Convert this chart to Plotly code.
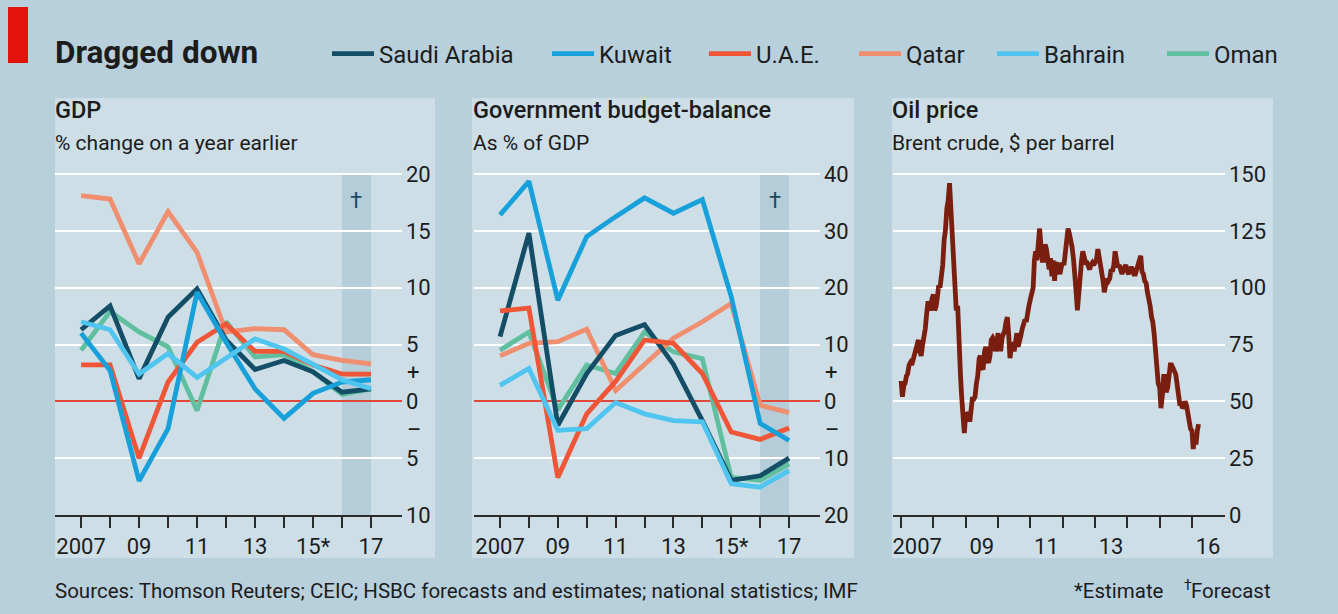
import plotly.graph_objects as go
import pandas as pd

W, H = 1338, 614

# ---------------- data ----------------
years = list(range(2007, 2018))
label_years = [2007, 2009, 2011, 2013, 2015, 2017]
year_labels = ["2007", "09", "11", "13", "15*", "17"]
forecast_start, forecast_end = 2016, 2017

countries = ["Saudi Arabia", "Kuwait", "U.A.E.", "Qatar", "Bahrain", "Oman"]

# GDP, % change on a year earlier
gdp_saudi = [6.3, 8.4, 2.0, 7.4, 9.9, 5.4, 2.8, 3.6, 2.6, 0.8, 1.1]
gdp_kuwait = [6.0, 2.7, -7.0, -2.4, 9.6, 5.2, 1.1, -1.5, 0.7, 1.7, 1.9]
gdp_uae = [3.2, 3.2, -5.0, 1.7, 5.2, 6.8, 4.4, 4.4, 3.2, 2.4, 2.4]
gdp_qatar = [18.1, 17.8, 12.1, 16.7, 13.1, 6.1, 6.4, 6.3, 4.1, 3.6, 3.3]
gdp_bahrain = [7.0, 6.3, 2.4, 4.2, 2.1, 3.8, 5.5, 4.6, 3.2, 1.9, 1.1]
gdp_oman = [4.5, 7.9, 6.1, 4.8, -0.8, 7.0, 3.9, 4.1, 2.6, 0.6, 1.1]

# Government budget balance, % of GDP
bud_saudi = [11.4, 29.6, -4.2, 4.9, 11.6, 13.5, 6.5, -3.4, -13.9, -13.1, -10.0]
bud_kuwait = [32.8, 38.7, 17.8, 29.0, 32.5, 35.8, 33.1, 35.5, 18.4, -3.9, -6.9]
bud_uae = [15.9, 16.4, -13.4, -2.2, 3.5, 10.8, 10.2, 4.9, -5.4, -6.7, -4.7]
bud_qatar = [8.0, 10.2, 10.5, 12.7, 1.9, 6.4, 11.1, 14.0, 17.2, -0.7, -2.0]
bud_bahrain = [2.8, 5.8, -5.1, -4.8, -0.2, -2.2, -3.4, -3.6, -14.5, -15.1, -12.2]
bud_oman = [9.0, 12.2, -1.5, 6.4, 4.9, 12.2, 8.7, 7.5, -13.4, -13.9, -11.0]

# Brent crude, $ per barrel (semi-monthly readings from Jan 2007)
brent = [
    59, 52, 57, 58, 61, 62, 66, 67, 66, 68, 70, 71, 74, 77, 72, 70, 75, 78, 82, 88, 94, 92, 90, 95,
    97, 90, 92, 96, 101, 100, 104, 110, 121, 125, 135, 138, 146, 136, 124, 113, 105, 90, 92, 73, 62, 52, 46, 36,
    45, 44, 45, 41, 46, 51, 51, 52, 58, 61, 69, 70, 65, 64, 72, 74, 68, 67, 70, 77, 78, 77, 72, 76,
    80, 73, 73, 78, 79, 81, 85, 87, 79, 69, 74, 76, 72, 76, 80, 74, 76, 79, 82, 84, 86, 85, 90, 92,
    95, 98, 100, 112, 116, 112, 122, 126, 118, 112, 112, 119, 117, 110, 108, 113, 105, 112, 103, 110, 111, 108, 106, 109,
    111, 110, 116, 120, 126, 124, 121, 118, 113, 108, 98, 90, 100, 106, 112, 116, 114, 111, 111, 109, 108, 110, 111, 110,
    112, 112, 117, 114, 110, 108, 103, 98, 103, 104, 103, 104, 108, 107, 110, 116, 112, 109, 110, 108, 106, 108, 110, 110,
    107, 106, 108, 109, 108, 106, 106, 109, 110, 112, 114, 107, 106, 103, 102, 98, 95, 92, 87, 85, 79, 72, 64, 58,
    56, 47, 53, 61, 61, 54, 56, 63, 66, 66, 64, 63, 62, 58, 52, 49, 49, 47, 48, 50, 48, 44, 43, 38,
    37, 29, 35, 31, 37, 40,
]
brent_dates = pd.date_range("2007-01-01", periods=len(brent), freq="SMS")
oil_label_years = [2007, 2009, 2011, 2013, 2016]
oil_labels = ["2007", "09", "11", "13", "16"]
oil_tick_years = list(range(2007, 2017))

gdp = [gdp_saudi, gdp_kuwait, gdp_uae, gdp_qatar, gdp_bahrain, gdp_oman]
bud = [bud_saudi, bud_kuwait, bud_uae, bud_qatar, bud_bahrain, bud_oman]

# ---------------- style ----------------
colors = ["#134e66", "#17a0d9", "#ef5637", "#ef8f70", "#4fc5f0", "#5fbf9f"]
draw_order = [5, 3, 0, 2, 1, 4]
OUTER = "#b8cfdc"
PANEL = "#cddee7"
BAND = "#b5ccd9"
DARK = "#2b2b2b"
TXT = "#1c1c1c"
FONT = "Roboto"
OIL = "#7a1f10"
LW = 4.8

def px(x):
    return x / W

def py(y):
    return 1 - y / H

fig = go.Figure()

legend_x = [335, 555, 712, 862, 1000, 1170]

for i in draw_order:
    fig.add_trace(go.Scatter(
        x=years, y=gdp[i], mode="lines", name=countries[i],
        line=dict(color=colors[i], width=LW), xaxis="x", yaxis="y",
        legend="legend" if i == 0 else f"legend{i+1}", showlegend=True,
        hoverinfo="skip"))
    fig.add_trace(go.Scatter(
        x=years, y=bud[i], mode="lines", name=countries[i],
        line=dict(color=colors[i], width=LW), xaxis="x2", yaxis="y2",
        showlegend=False, hoverinfo="skip"))

fig.add_trace(go.Scatter(
    x=brent_dates, y=brent, mode="lines", name="Brent",
    line=dict(color=OIL, width=4.8), xaxis="x3", yaxis="y3",
    showlegend=False, hoverinfo="skip"))

ydom = [py(515), py(170.6)]
tickfont = dict(family=FONT, size=22, color=TXT)

year_minor = dict(tickmode="array", tickvals=years, ticks="outside", ticklen=11,
                  tickwidth=1.5, tickcolor=DARK, showgrid=False)
common_x = dict(ticks="outside", ticklen=11, tickwidth=1.5, tickcolor=DARK,
                showline=True, linecolor=DARK, linewidth=1.5, showgrid=False,
                zeroline=False, tickfont=tickfont, fixedrange=True, automargin=False)
common_y = dict(side="right", showgrid=True, gridcolor="white", gridwidth=2,
                ticks="", tickfont=tickfont, showline=False, fixedrange=True,
                ticklabelstandoff=3, automargin=False)

layout = dict(
    width=W, height=H, autosize=False,
    margin=dict(l=0, r=0, t=0, b=0, pad=0, autoexpand=False),
    paper_bgcolor=OUTER, plot_bgcolor="rgba(0,0,0,0)",
    font=dict(family=FONT, color=TXT),
    xaxis=dict(domain=[px(55), px(402)], range=[2006.1, 2018.07], anchor="y",
               tickmode="array", tickvals=label_years, ticktext=year_labels,
               minor=year_minor, **common_x),
    yaxis=dict(domain=ydom, range=[-10, 20.3], anchor="x",
               tickmode="array", tickvals=[-10, -5, 0, 5, 10, 15, 20],
               ticktext=["10", "5", "0", "5", "10", "15", "20"],
               zeroline=True, zerolinecolor="#e0483a", zerolinewidth=1.5, **common_y),
    xaxis2=dict(domain=[px(474), px(820)], range=[2006.1, 2018.07], anchor="y2",
                tickmode="array", tickvals=label_years, ticktext=year_labels,
                minor=year_minor, **common_x),
    yaxis2=dict(domain=ydom, range=[-20, 40.6], anchor="x2",
                tickmode="array", tickvals=[-20, -10, 0, 10, 20, 30, 40],
                ticktext=["20", "10", "0", "10", "20", "30", "40"],
                zeroline=True, zerolinecolor="#e0483a", zerolinewidth=1.5, **common_y),
    xaxis3=dict(domain=[px(893), px(1225)], type="date",
                range=["2006-10-01", "2017-01-08"], anchor="y3",
                tickmode="array",
                tickvals=[f"{y}-07-01" for y in oil_label_years], ticktext=oil_labels,
                ticks="outside", ticklen=11, tickwidth=1.5, tickcolor="rgba(0,0,0,0)",
                minor=dict(tickmode="array", tickvals=[f"{y}-01-01" for y in oil_tick_years],
                           ticks="outside", ticklen=11, tickwidth=1.5, tickcolor=DARK,
                           showgrid=False),
                showline=True, linecolor=DARK, linewidth=1.5, showgrid=False,
                zeroline=False, tickfont=tickfont, fixedrange=True, automargin=False),
    yaxis3=dict(domain=ydom, range=[0, 151.5], anchor="x3",
                tickmode="array", tickvals=[0, 25, 50, 75, 100, 125, 150],
                zeroline=False, **common_y),
)

# legends, one per country, positioned along the top row
for i, name in enumerate(countries):
    key = "legend" if i == 0 else f"legend{i+1}"
    layout[key] = dict(x=px(legend_x[i] - 8), y=py(54), xanchor="left", yanchor="middle",
                       orientation="h", bgcolor="rgba(0,0,0,0)", borderwidth=0,
                       itemwidth=42,
                       font=dict(family=FONT, size=24, color=TXT),
                       itemclick=False, itemdoubleclick=False)

fig.update_layout(**layout)

# panel backgrounds and red tab
shapes = []
for x0, x1 in [(55, 435), (472, 854), (892, 1273)]:
    shapes.append(dict(type="rect", xref="paper", yref="paper", x0=px(x0), x1=px(x1),
                       y0=py(558), y1=py(98), fillcolor=PANEL, line=dict(width=0), layer="below"))
shapes.append(dict(type="rect", xref="paper", yref="paper", x0=px(8), x1=px(28),
                   y0=py(63), y1=py(7), fillcolor="#e3120b", line=dict(width=0), layer="below"))
# forecast bands
shapes.append(dict(type="rect", xref="x", yref="y", x0=forecast_start, x1=forecast_end,
                   y0=-10, y1=20, fillcolor=BAND, line=dict(width=0), layer="below"))
shapes.append(dict(type="rect", xref="x2", yref="y2", x0=forecast_start, x1=forecast_end,
                   y0=-20, y1=40, fillcolor=BAND, line=dict(width=0), layer="below"))
fig.update_layout(shapes=shapes)

ann = []
def text(x, y, s, size, weight=None, anchor="left", color=TXT):
    ann.append(dict(xref="paper", yref="paper", x=px(x), y=py(y), text=s, showarrow=False,
                    xanchor=anchor, yanchor="middle",
                    font=dict(family=FONT, size=size, color=color, weight=weight)))

text(53, 52, "Dragged down", 31.5, weight="bold")
text(53, 110, "GDP", 23.5, weight=500)
text(53, 143, "% change on a year earlier", 21)
text(471, 110, "Government budget-balance", 23.5, weight=500)
text(471, 143, "As % of GDP", 21)
text(890, 110, "Oil price", 23.5, weight=500)
text(890, 143, "Brent crude, $ per barrel", 21)
text(53, 591, "Sources: Thomson Reuters; CEIC; HSBC forecasts and estimates; national statistics; IMF", 20.5)
text(1166, 591, "*Estimate", 20.5, anchor="right")
text(1182, 585, "†", 14)
text(1273, 591, "Forecast", 20.5, anchor="right")

# "+" and "–" sign markers beside the zero line of the GDP and budget panels
for yr, plot_right, step in [("y", 402, 2.5), ("y2", 820, 5)]:
    for val, sign in [(step, "+"), (-step, "–")]:
        ann.append(dict(xref="paper", yref=yr, x=px(plot_right + 3), y=val, text=sign,
                        showarrow=False, xanchor="left", yanchor="middle",
                        font=dict(family=FONT, size=22, color=TXT)))

for xr, yr, yv in [("x", "y", 17.7), ("x2", "y2", 35.4)]:
    ann.append(dict(xref=xr, yref=yr, x=(forecast_start + forecast_end) / 2, y=yv, text="†",
                    showarrow=False, font=dict(family=FONT, size=22, color="#1b4a63")))

fig.update_layout(annotations=ann)

page_fix = (
    "document.documentElement.style.margin='0';"
    "document.body.style.margin='0';"
    "document.documentElement.style.overflow='hidden';"
    "document.body.style.overflow='hidden';"
    "var g=document.getElementById('{plot_id}');"
    "g.style.position='fixed';g.style.top='0px';g.style.left='0px';"
)
fig.write_html("out.html", config={"displayModeBar": False}, post_script=page_fix)
